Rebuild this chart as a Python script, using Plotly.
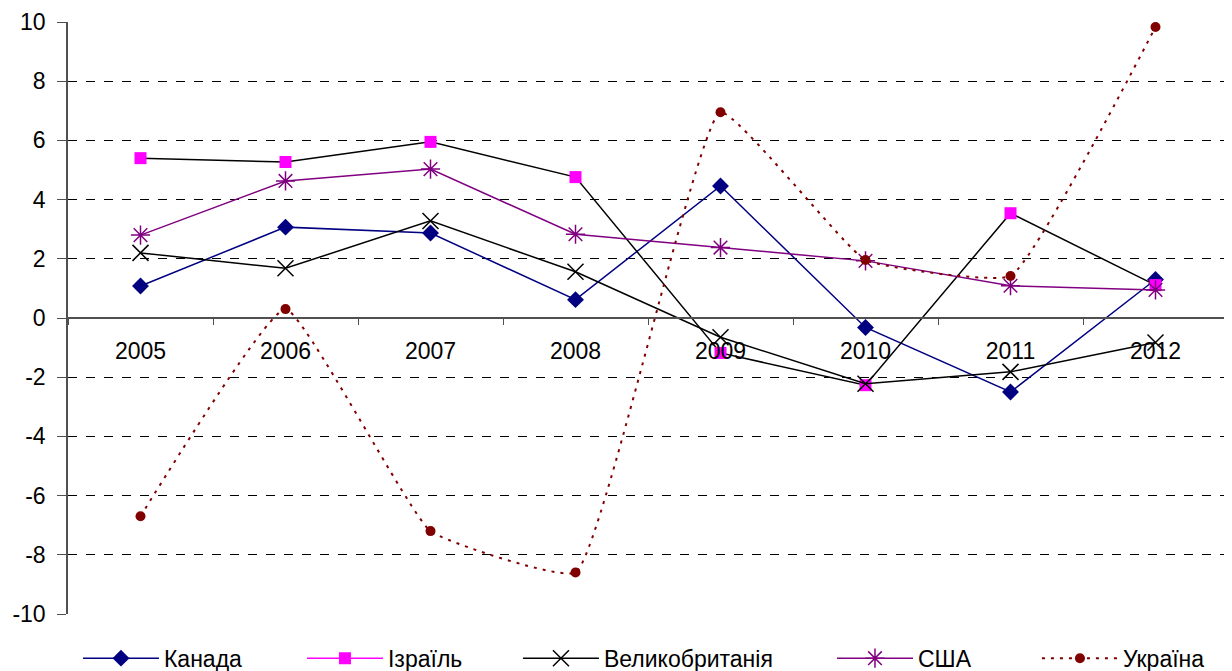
import plotly.graph_objects as go

years = ["2005", "2006", "2007", "2008", "2009", "2010", "2011", "2012"]
canada = [1.08, 3.07, 2.87, 0.62, 4.46, -0.32, -2.5, 1.3]
israel = [5.4, 5.27, 5.95, 4.76, -1.18, -2.27, 3.54, 1.11]
uk = [2.2, 1.68, 3.28, 1.56, -0.65, -2.22, -1.82, -0.83]
usa = [2.8, 4.63, 5.03, 2.83, 2.38, 1.93, 1.09, 0.95]
ukraine = [-6.7, 0.3, -7.2, -8.6, 6.95, 1.96, 1.42, 9.83]
yticks = [-10, -8, -6, -4, -2, 0, 2, 4, 6, 8, 10]
yticklabels = [str(v) for v in yticks]

FONT = "Liberation Sans, Arial, sans-serif"
FS = 23

fig = go.Figure()

fig.add_trace(go.Scatter(x=years, y=canada, name="Канада", mode="lines+markers",
                         line=dict(color="#000080", width=1.5),
                         marker=dict(symbol="diamond", size=13, color="#000080"),
                         legend="legend"))
# Israel: black line on chart, magenta in legend
fig.add_trace(go.Scatter(x=years, y=israel, name="Ізраїль", mode="lines+markers",
                         line=dict(color="black", width=1.5),
                         marker=dict(symbol="square", size=12, color="#FF00FF"),
                         showlegend=False))
fig.add_trace(go.Scatter(x=[None], y=[None], name="Ізраїль", mode="lines+markers",
                         line=dict(color="#FF00FF", width=1.5),
                         marker=dict(symbol="square", size=12, color="#FF00FF"),
                         legend="legend2"))
fig.add_trace(go.Scatter(x=years, y=uk, name="Великобританія", mode="lines+markers",
                         line=dict(color="black", width=1.5),
                         marker=dict(symbol="x-thin-open", size=16, color="black",
                                     line=dict(width=1.5, color="black")),
                         legend="legend3"))
fig.add_trace(go.Scatter(x=years, y=usa, name="США", mode="lines+markers",
                         line=dict(color="#800080", width=1.5),
                         marker=dict(symbol="asterisk-open", size=16, color="#800080",
                                     line=dict(width=1.5, color="#800080")),
                         legend="legend4"))
fig.add_trace(go.Scatter(x=years, y=ukraine, name="Україна", mode="lines+markers",
                         line=dict(color="#800000", width=2, dash="3px,6px",
                                   shape="spline", smoothing=0.35),
                         marker=dict(symbol="circle", size=10, color="#800000"),
                         legend="legend5"))

legend_common = dict(orientation="h", yanchor="bottom", y=-0.111, xanchor="left",
                     font=dict(family=FONT, size=FS, color="black"),
                     bgcolor="rgba(0,0,0,0)", itemwidth=76)
fig.update_layout(
    width=1224, height=663,
    margin=dict(l=60, r=4, t=14, b=57, autoexpand=False),
    paper_bgcolor="white", plot_bgcolor="white",
    font=dict(family=FONT, size=FS, color="black"),
    xaxis=dict(type="category", range=[-0.5, len(years) - 0.5],
               anchor="free", position=0.5, automargin=False,
               showline=True, linecolor="#505050", linewidth=1.5,
               ticks="outside", tickson="boundaries", ticklen=6, tickcolor="#505050",
               showgrid=False, zeroline=False, ticklabelstandoff=13,
               tickfont=dict(family=FONT, size=FS, color="black")),
    yaxis=dict(range=[-10, 10], tickvals=yticks, ticktext=yticklabels, automargin=False,
               showline=True, linecolor="#505050",
               linewidth=1.5, ticks="outside", ticklen=9, tickcolor="#505050",
               showgrid=True, gridcolor="black", griddash="dash", gridwidth=1,
               zeroline=False, ticklabelstandoff=7,
               tickfont=dict(family=FONT, size=FS, color="black")),
    showlegend=True,
    legend=dict(legend_common, x=0.0086),
    legend2=dict(legend_common, x=0.2017),
    legend3=dict(legend_common, x=0.3879),
    legend4=dict(legend_common, x=0.6586),
    legend5=dict(legend_common, x=0.8353),
)

fig.write_html("out.html")
